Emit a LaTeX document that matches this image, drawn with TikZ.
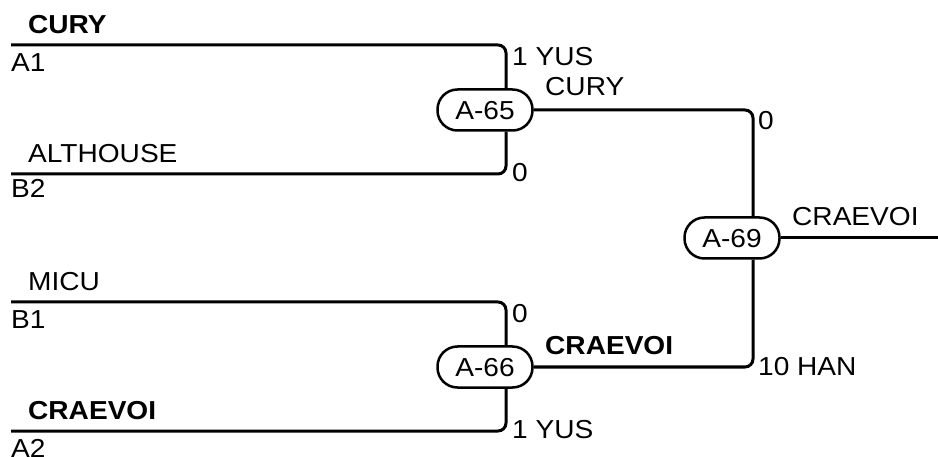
\documentclass[tikz,border=0pt]{standalone}
\usepackage{fontspec}
\setmainfont{Liberation Sans}[FakeStretch=1.08]
\begin{document}
\begin{tikzpicture}[x=1pt, y=-1pt,
    every node/.style={inner sep=0pt, font=\fontsize{26}{30}\selectfont},
    txt/.style={anchor=west, text height=18.6pt, text depth=0pt},
    match/.style={draw, fill=white, line width=2.5pt, rounded corners=20pt,
      minimum width=95pt, minimum height=41pt, text height=18.6pt, text depth=0pt},
    link/.style={line width=3pt, rounded corners=8pt}]
    \useasboundingbox (0,0) rectangle (938,457);

    % Nodos
    \node[match] (M65) at (485,110) {A-65};
    \node[match] (M66) at (485,367) {A-66};
    \node[match] (M69) at (732,238) {A-69};
    \coordinate (A1) at (11,45);
    \coordinate (B2) at (11,174);
    \coordinate (B1) at (11,302);
    \coordinate (A2) at (11,431);
    \coordinate (W) at (938,238);

    % Equipos
    \node[txt, font=\fontsize{26}{30}\selectfont\bfseries] (tA1) at (28,24) {CURY};
    \node[txt] (sA1) at (11,62) {A1};
    \node[txt] (tB2) at (28,153) {ALTHOUSE};
    \node[txt] (sB2) at (11,188) {B2};
    \node[txt] (tB1) at (28,281) {MICU};
    \node[txt] (sB1) at (11,319) {B1};
    \node[txt, font=\fontsize{26}{30}\selectfont\bfseries] (tA2) at (28,410) {CRAEVOI};
    \node[txt] (sA2) at (11,448) {A2};

    % Resultados
    \node[txt] (rA1) at (512,56) {1 YUS};
    \node[txt] (rB2) at (512,172) {0};
    \node[txt] (rB1) at (512,313) {0};
    \node[txt] (rA2) at (512,429) {1 YUS};
    \node[txt] (w65) at (545,86) {CURY};
    \node[txt, font=\fontsize{26}{30}\selectfont\bfseries] (w66) at (545,345) {CRAEVOI};
    \node[txt] (r65) at (758,120) {0};
    \node[txt] (r66) at (758,366) {10 HAN};
    \node[txt] (w69) at (792,216) {CRAEVOI};

    % Conexiones
    \draw[link] (A1) -| ([xshift=21pt]M65.north);
    \draw[link] (B2) -| ([xshift=21pt]M65.south);
    \draw[link] (B1) -| ([xshift=21pt]M66.north);
    \draw[link] (A2) -| ([xshift=21pt]M66.south);
    \draw[link] (M65.east) -| ([xshift=21pt]M69.north);
    \draw[link] (M66.east) -| ([xshift=21pt]M69.south);
    \draw[link] (M69.east) -- (W);
\end{tikzpicture}
\end{document}
